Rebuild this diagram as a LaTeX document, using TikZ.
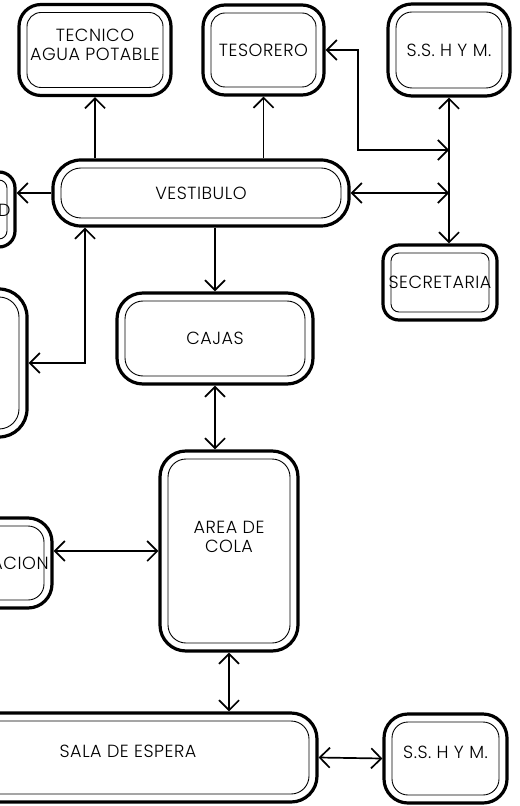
\documentclass[tikz,border=0pt]{standalone}
\usepackage{fontspec}
\newfontfamily\roomfont{Poppins Light}[LetterSpace=3]
\usetikzlibrary{positioning, arrows.meta, calc}

\begin{document}
\begin{tikzpicture}[x=0.5pt, y=-0.5pt, every node/.style={font=\roomfont\fontsize{8.8}{9.5}\selectfont}]
  \tikzset{
    room/.style={draw, line width=1.6pt, rounded corners=#1, align=center, inner sep=0pt,
      append after command={\pgfextra{\draw[line width=0.45pt, rounded corners=#1-4pt]
        ($(\tikzlastnode.south west)+(4.8pt,4.8pt)$) rectangle ($(\tikzlastnode.north east)-(4.8pt,4.8pt)$);}}},
    roomlabel/.style={align=center, font=\roomfont\fontsize{8.8}{9.5}\selectfont},
    link/.style={line width=0.85pt, >={Straight Barb[length=5pt, width=10pt]}},
    roomtext/.style={inner sep=0pt},
  }
  \fill[white] (0,0) rectangle (519,806);
  \useasboundingbox (0,0) rectangle (519,806);

  %% ===== Upper rooms =====
  \node[room=11pt, minimum width=76pt, minimum height=45.5pt,
        label={[name=tecnicotext, roomlabel, yshift=2.5pt]center:TECNICO\\AGUA POTABLE}] (tecnico) at (95,50) {};
  \node[room=11pt, minimum width=60.5pt, minimum height=45pt] (tesorero) at (263.5,50) {TESORERO};
  \node[room=12pt, minimum width=61pt, minimum height=46pt] (sshymtop) at (449,50) {S.S. H Y M.};
  \node[room=14pt, minimum width=148pt, minimum height=33pt] (vestibulo) at (201,193) {VESTIBULO};
  \node[room=8pt, minimum width=57pt, minimum height=37.5pt] (secretaria) at (440,282.5) {SECRETARIA};

  %% ===== Rooms cut by the left edge =====
  \node[room=8pt, minimum width=45pt, minimum height=37.5pt] (dbox) at (-30,209.5) {};
  \node[roomtext, anchor=east] (dtext) at (11,210) {D};
  \node[room=14pt, minimum width=67pt, minimum height=74pt] (leftbox) at (-40,363) {};
  \node[room=12pt, minimum width=62pt, minimum height=45pt] (acbox) at (-10,563) {};
  \node[roomtext, anchor=east] (actext) at (49,563) {ACION};

  %% ===== Lower rooms =====
  \node[room=13pt, minimum width=98pt, minimum height=45.5pt] (cajas) at (215,338.5) {CAJAS};
  \node[room=13pt, minimum width=69pt, minimum height=100pt,
        label={[name=colatext, roomlabel, yshift=7pt]center:AREA DE\\COLA}] (cola) at (229,551) {};
  \node[room=13pt, minimum width=189pt, minimum height=44.5pt,
        label={[name=salatext, roomlabel, yshift=3pt]center:SALA DE ESPERA}] (sala) at (128,757.5) {};
  \node[room=12pt, minimum width=61.5pt, minimum height=44.5pt,
        label={[name=sshymbottext, roomlabel, yshift=3pt]center:S.S. H Y M.}] (sshymbot) at (445.5,758.5) {};

  %% ===== Connectors =====
  \coordinate (turn) at (358,150);
  \coordinate (tbus) at (sshymtop.south |- turn);
  \coordinate (vbus) at (vestibulo.east -| tbus);
  \coordinate (lturn) at (85,363);
  \draw[link, ->] (vestibulo.north -| tecnico.south) -- (tecnico.south);
  \draw[link, ->] (vestibulo.north -| tesorero.south) -- (tesorero.south);
  \draw[link, <->] (tesorero.east) -| (turn) -- (tbus);
  \draw[link, <->] (sshymtop.south) -- (sshymtop.south |- secretaria.north);
  \draw[link, <->] (vestibulo.east) -- (vbus);
  \draw[link, ->] (vestibulo.west) -- (vestibulo.west -| dbox.east);
  \draw[link, <->] (vestibulo.south -| lturn) |- (leftbox.east);
  \draw[link, ->] (vestibulo.south -| cajas.north) -- (cajas.north);
  \draw[link, <->] (cajas.south) -- (cajas.south |- cola.north);
  \draw[link, <->] (cola.west -| acbox.east) -- (cola.west);
  \draw[link, <->] (cola.south) -- (cola.south |- sala.north);
  \draw[link, <->] (sala.east) -- (sshymbot.west);
\end{tikzpicture}
\end{document}
